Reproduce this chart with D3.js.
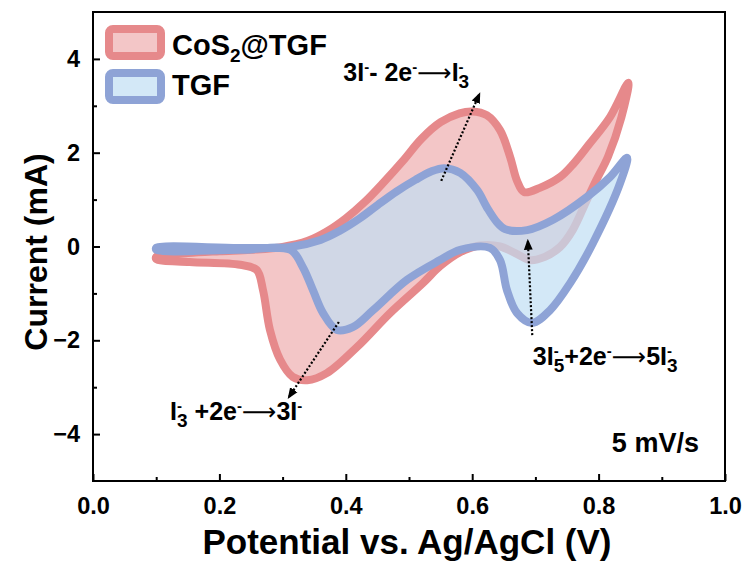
<!DOCTYPE html>
<html>
<head>
<meta charset="utf-8">
<script src="https://cdn.jsdelivr.net/npm/d3@7"></script>
<style>
  body { margin: 0; background: #fff; }
  text { font-family: "Liberation Sans", Arial, sans-serif; font-weight: bold; fill: #000; }
</style>
</head>
<body>
<svg width="747" height="572"></svg>
<script>

// CV data: [potential V, current mA]
var cosForward = [
  [0.10, -0.22], [0.15, -0.14], [0.20, -0.10], [0.25, -0.07], [0.30, -0.01],
  [0.34, 0.12], [0.37, 0.32], [0.40, 0.60], [0.43, 0.95], [0.46, 1.37],
  [0.49, 1.82], [0.52, 2.30], [0.55, 2.65], [0.58, 2.84], [0.60, 2.88],
  [0.623, 2.80], [0.644, 2.48], [0.660, 1.91], [0.671, 1.40], [0.682, 1.16],
  [0.707, 1.25], [0.739, 1.48], [0.760, 1.76], [0.785, 2.18], [0.818, 2.76],
  [0.847, 3.49]
];
var cosReverse = [
  [0.836, 2.75], [0.815, 1.92], [0.795, 1.38], [0.780, 0.95], [0.759, 0.35],
  [0.739, -0.01], [0.715, -0.22], [0.691, -0.29], [0.668, -0.14], [0.644, 0.00],
  [0.612, 0.02], [0.581, -0.12], [0.549, -0.42], [0.522, -0.78], [0.470, -1.42],
  [0.418, -2.14], [0.370, -2.70], [0.339, -2.85], [0.316, -2.78], [0.296, -2.41],
  [0.280, -1.78], [0.269, -0.93], [0.259, -0.50], [0.233, -0.39], [0.153, -0.33],
  [0.10, -0.27]
];
var tgfForward = [
  [0.10, -0.03], [0.233, -0.03], [0.312, -0.01], [0.36, 0.14], [0.39, 0.33],
  [0.42, 0.58], [0.45, 0.88], [0.48, 1.17], [0.51, 1.42], [0.535, 1.60],
  [0.556, 1.67], [0.581, 1.57], [0.608, 1.20], [0.623, 0.84], [0.639, 0.52],
  [0.652, 0.37], [0.687, 0.35], [0.728, 0.57], [0.782, 1.06], [0.818, 1.48],
  [0.845, 1.89]
];
var tgfReverse = [
  [0.834, 1.35], [0.791, 0.07], [0.755, -0.78], [0.723, -1.36], [0.695, -1.63],
  [0.671, -1.42], [0.655, -0.93], [0.644, -0.29], [0.628, -0.03], [0.581, -0.07],
  [0.549, -0.29], [0.497, -0.71], [0.443, -1.36], [0.411, -1.72], [0.386, -1.78],
  [0.364, -1.42], [0.348, -0.93], [0.332, -0.44], [0.312, -0.07], [0.233, -0.07],
  [0.10, -0.07]
];

var xTicks = [0.0, 0.2, 0.4, 0.6, 0.8, 1.0];
var xMinor = [0.1, 0.3, 0.5, 0.7, 0.9];
var yTicks = [-4, -2, 0, 2, 4];
var yMinor = [-3, -1, 1, 3];

// dotted arrows: [from, to] in data units
var arrows = [
  [[0.551, 1.40], [0.612, 3.27]],
  [[0.389, -1.61], [0.309, -3.23]],
  [[0.695, -1.89], [0.688, 0.14]]
];

var svg = d3.select("svg");

var x = d3.scaleLinear().domain([0, 1]).range([93, 725]);
var y = d3.scaleLinear().domain([-5, 5]).range([481, 12]);

var line = d3.line()
    .x(function(d) { return x(d[0]); })
    .y(function(d) { return y(d[1]); })
    .curve(d3.curveCatmullRomClosed.alpha(0.5));

var red = { stroke: "#e6898b", fill: "#f3c6c7" };
var blue = { stroke: "#8ea3d6", fill: "rgb(192,222,244)" };

// CoS2@TGF loop first, TGF over it
svg.append("path")
    .attr("d", line(cosForward.concat(cosReverse)))
    .attr("fill", red.fill)
    .attr("stroke", red.stroke)
    .attr("stroke-width", 8)
    .attr("stroke-linejoin", "round");

svg.append("path")
    .attr("d", line(tgfForward.concat(tgfReverse)))
    .attr("fill", blue.fill)
    .attr("fill-opacity", 0.7)
    .attr("stroke", "none");

svg.append("path")
    .attr("d", line(tgfForward.concat(tgfReverse)))
    .attr("fill", "none")
    .attr("stroke", blue.stroke)
    .attr("stroke-width", 8)
    .attr("stroke-linejoin", "round");

// frame
svg.append("rect")
    .attr("x", x(0)).attr("y", y(5))
    .attr("width", x(1) - x(0)).attr("height", y(-5) - y(5))
    .attr("fill", "none").attr("stroke", "#000").attr("stroke-width", 2);

// axes, ticks inward
svg.append("g")
    .attr("transform", "translate(0," + y(-5) + ")")
    .call(d3.axisBottom(x).tickValues(xTicks).tickSize(-7).tickPadding(16)
      .tickFormat(d3.format(".1f")));
svg.append("g")
    .attr("transform", "translate(0," + y(-5) + ")")
    .call(d3.axisBottom(x).tickValues(xMinor).tickSize(-4).tickFormat(""));

svg.append("g")
    .attr("transform", "translate(" + x(0) + ",0)")
    .call(d3.axisLeft(y).tickValues(yTicks).tickSize(-7).tickPadding(13)
      .tickFormat(function(d) { return d < 0 ? "\u2212" + Math.abs(d) : d; }));
svg.append("g")
    .attr("transform", "translate(" + x(0) + ",0)")
    .call(d3.axisLeft(y).tickValues(yMinor).tickSize(-4).tickFormat(""));

svg.selectAll(".domain").remove();
svg.selectAll(".tick line").attr("stroke", "#000").attr("stroke-width", 2);
svg.selectAll(".tick text")
    .attr("font-family", null)
    .style("font-size", "23.5px")
    .attr("fill", "#000");

// axis titles
svg.append("text")
    .attr("x", (x(0) + x(1)) / 2 - 2).attr("y", 554)
    .attr("text-anchor", "middle")
    .style("font-size", "35px")
    .text("Potential vs. Ag/AgCl (V)");

svg.append("text")
    .attr("transform", "translate(47,252) rotate(-90)")
    .attr("text-anchor", "middle")
    .style("font-size", "32px")
    .text("Current  (mA)");

// legend
var legend = svg.append("g");
[red, blue].forEach(function(c, i) {
  legend.append("rect")
      .attr("x", 109).attr("y", 29 + i * 44)
      .attr("width", 52).attr("height", 27)
      .attr("rx", 4)
      .attr("fill", c.fill)
      .attr("fill-opacity", i == 1 ? 0.7 : 1)
      .attr("stroke", c.stroke).attr("stroke-width", 8);
});
var l1 = legend.append("text").attr("x", 172).attr("y", 55).style("font-size", "29px");
l1.append("tspan").text("CoS");
l1.append("tspan").attr("dy", 7).style("font-size", "19px").text("2");
l1.append("tspan").attr("dy", -7).text("@TGF");
legend.append("text").attr("x", 172).attr("y", 95).style("font-size", "29px").text("TGF");

// arrows
svg.append("defs").append("marker")
    .attr("id", "head")
    .attr("viewBox", "0 0 10 10")
    .attr("refX", 9).attr("refY", 5)
    .attr("markerWidth", 5).attr("markerHeight", 5)
    .attr("markerUnits", "strokeWidth")
    .attr("orient", "auto")
  .append("path")
    .attr("d", "M0,1 L10,5 L0,9 Z")
    .attr("fill", "#000");

svg.selectAll(".arrow")
    .data(arrows)
    .enter().append("line")
      .attr("class", "arrow")
      .attr("x1", function(d) { return x(d[0][0]); })
      .attr("y1", function(d) { return y(d[0][1]); })
      .attr("x2", function(d) { return x(d[1][0]); })
      .attr("y2", function(d) { return y(d[1][1]); })
      .attr("stroke", "#000")
      .attr("stroke-width", 2.2)
      .attr("stroke-dasharray", "2,2")
      .attr("marker-end", "url(#head)");

// reaction labels; parts: [text, kind], kind: n normal, sup minus, supsub minus over digit, arr long arrow
function reaction(v, c, parts) {
  var t = svg.append("text")
      .attr("x", x(v)).attr("y", y(c))
      .style("font-size", "25px");
  var shift = 0;
  parts.forEach(function(p) {
    if (p[1] == "n") {
      t.append("tspan").attr("dy", -shift).text(p[0]);
      shift = 0;
    } else if (p[1] == "arr") {
      t.append("tspan").attr("dy", -shift)
          .style("font-family", "'DejaVu Sans'").style("font-weight", "normal")
          .style("font-size", "24px")
          .text("\u27F6");
      shift = 0;
    } else if (p[1] == "sup") {
      t.append("tspan").attr("dy", -9 - shift).style("font-size", "15px").text("-");
      shift = -9;
    } else if (p[1] == "supsub") {
      t.append("tspan").attr("dy", -9 - shift).style("font-size", "15px").text("-");
      t.append("tspan").attr("dx", -5).attr("dy", 16).style("font-size", "19px").text(p[0]);
      shift = 7;
    }
  });
  return t;
}

reaction(0.396, 3.53, [["3I", "n"], ["", "sup"], ["- 2e", "n"], ["", "sup"], ["", "arr"], ["I", "n"], ["3", "supsub"]]);
reaction(0.122, -3.70, [["I", "n"], ["3", "supsub"], [" +2e", "n"], ["", "sup"], ["", "arr"], ["3I", "n"], ["", "sup"]]);
reaction(0.696, -2.53, [["3I", "n"], ["5", "supsub"], ["+2e", "n"], ["", "sup"], ["", "arr"], ["5I", "n"], ["3", "supsub"]]);

svg.append("text")
    .attr("x", x(0.821)).attr("y", y(-4.38))
    .style("font-size", "27px")
    .text("5 mV/s");

</script>
</body>
</html>
